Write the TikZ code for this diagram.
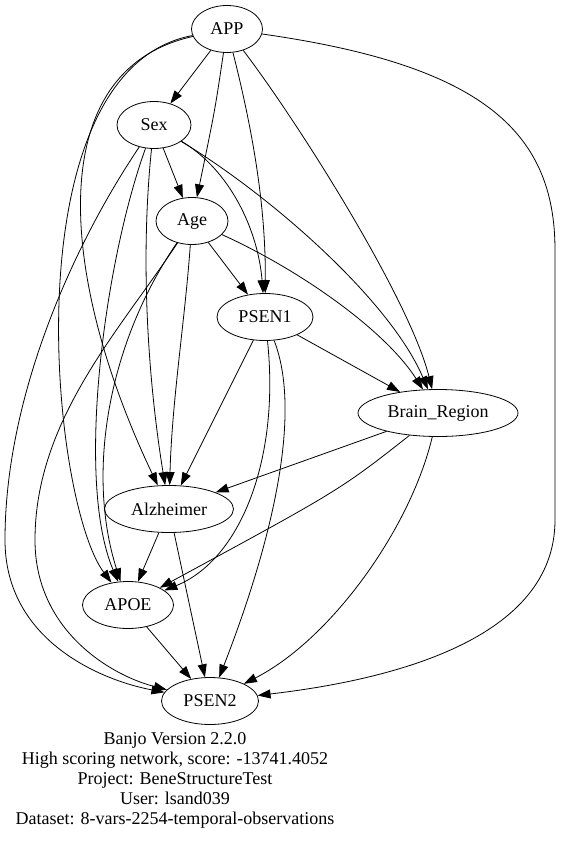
\documentclass[tikz,border=0pt]{standalone}
\usepackage{fontspec}
\setmainfont{Liberation Serif}
\usetikzlibrary{arrows.meta,shapes.geometric}

\begin{document}
\begin{tikzpicture}[x=1pt, y=-1pt, line width=0.8pt,
    >={Triangle[length=13pt,width=9pt]},
    every node/.style={font=\fontsize{18}{20}\selectfont},
    var/.style={draw, ellipse, inner sep=0pt, minimum height=47pt}]
  \useasboundingbox (0,0) rectangle (561,841);

  % variables, one per rank
  \node[var, minimum width=71pt] (APP) at (227,29) {APP};
  \node[var, minimum width=74pt] (Sex) at (154,125) {Sex};
  \node[var, minimum width=72pt] (Age) at (192,221) {Age};
  \node[var, minimum width=96pt] (PSEN1) at (265,317) {PSEN1};
  \node[var, minimum width=160pt] (Brain) at (438,413) {Brain\_Region};
  \node[var, minimum width=129pt] (Alz) at (169,509) {Alzheimer};
  \node[var, minimum width=91pt] (APOE) at (128,605) {APOE};
  \node[var, minimum width=97pt] (PSEN2) at (210,701) {PSEN2};

  % from APP
  \draw[->] (APP) -- (Sex);
  \draw[->] (APP) .. controls (215,110) .. (Age);
  \draw[->] (APP) .. controls (250,120) and (266,200) .. (PSEN1);
  \draw[->] (APP) .. controls (300,125) and (410,300) .. (Brain);
  \draw[->] (APP) .. controls (40,70) and (60,280) .. (Alz);
  \draw[->] (APP) .. controls (10,70) and (50,500) .. (APOE);
  \draw[->] (APP) .. controls (480,65) and (555,130) .. (555,250)
    -- (555,520) .. controls (555,640) and (390,680) .. (PSEN2);

  % from Sex
  \draw[->] (Sex) -- (Age);
  \draw[->] (Sex) .. controls (230,170) and (258,230) .. (PSEN1);
  \draw[->] (Sex) .. controls (270,195) and (390,300) .. (Brain);
  \draw[->] (Sex) .. controls (140,260) and (148,380) .. (Alz);
  \draw[->] (Sex) .. controls (105,260) and (75,480) .. (APOE);
  \draw[->] (Sex) .. controls (70,250) and (5,400) .. (5,540)
    .. controls (5,640) and (100,680) .. (PSEN2);

  % from Age
  \draw[->] (Age) -- (PSEN1);
  \draw[->] (Age) .. controls (300,270) and (385,330) .. (Brain);
  \draw[->] (Age) .. controls (185,320) and (172,400) .. (Alz);
  \draw[->] (Age) .. controls (110,340) and (85,470) .. (APOE);
  \draw[->] (Age) .. controls (120,330) and (35,420) .. (35,540)
    .. controls (35,630) and (110,675) .. (PSEN2);

  % from PSEN1
  \draw[->] (PSEN1) -- (Brain);
  \draw[->] (PSEN1) -- (Alz);
  \draw[->] (PSEN1) .. controls (280,460) and (240,560) .. (APOE);
  \draw[->] (PSEN1) .. controls (305,420) and (265,560) .. (PSEN2);

  % from Brain_Region
  \draw[->] (Brain) -- (Alz);
  \draw[->] (Brain) .. controls (340,490) .. (APOE);
  \draw[->] (Brain) .. controls (410,530) and (330,640) .. (PSEN2);

  % lower ranks
  \draw[->] (Alz) -- (APOE);
  \draw[->] (Alz) -- (PSEN2);
  \draw[->] (APOE) -- (PSEN2);

  \node[align=center] (caption) at (175,780) {Banjo Version 2.2.0\\
    High scoring network, score: -13741.4052\\
    Project: BeneStructureTest\\
    User: lsand039\\
    Dataset: 8-vars-2254-temporal-observations};
\end{tikzpicture}
\end{document}
